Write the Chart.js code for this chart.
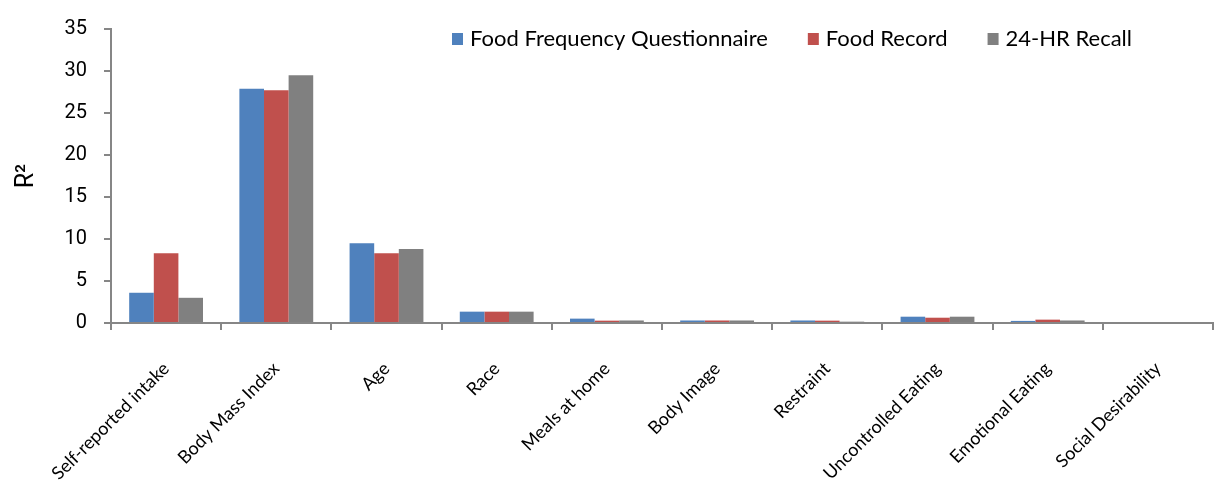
<!DOCTYPE html>
<html lang="en">
<head>
  <meta charset="UTF-8" />
  <title>R2 by predictor</title>
  <script src="https://cdn.jsdelivr.net/npm/chart.js"></script>
  <style>
    html, body { margin: 0; padding: 0; background: #fff; }
    #wrap { width: 1215px; height: 480px; position: relative; }
  </style>
</head>
<body>
  <div id="wrap"><canvas id="r2Chart"></canvas></div>

  <script>
    // categories and series
    const categories = ['Self-reported intake', 'Body Mass Index', 'Age', 'Race', 'Meals at home',
      'Body Image', 'Restraint', 'Uncontrolled Eating', 'Emotional Eating', 'Social Desirability'];
    const seriesNames = ['Food Frequency Questionnaire', 'Food Record', '24-HR Recall'];
    const ffqValues = [3.6, 27.9, 9.5, 1.35, 0.52, 0.3, 0.3, 0.75, 0.25, 0];
    const recordValues = [8.3, 27.7, 8.3, 1.35, 0.28, 0.3, 0.28, 0.63, 0.4, 0];
    const recallValues = [3.0, 29.5, 8.8, 1.35, 0.3, 0.3, 0.16, 0.75, 0.3, 0];
    const yTicks = [0, 5, 10, 15, 20, 25, 30, 35];

    const colors = ['#4F81BD', '#C0504D', '#808080'];
    const axisColor = '#868686';

    // legend drawn inside the plot, top right
    const insideLegend = {
      id: 'insideLegend',
      afterDraw(chart) {
        const ctx = chart.ctx;
        ctx.save();
        ctx.font = '22px Lato';
        ctx.textBaseline = 'middle';
        let x = 452;
        const y = 39;
        chart.data.datasets.forEach((ds, i) => {
          ctx.fillStyle = ds.backgroundColor;
          ctx.fillRect(x, y - 6, 11, 12);
          ctx.fillStyle = '#000';
          ctx.fillText(ds.label, x + 18, y);
          x += 18 + ctx.measureText(ds.label).width + 40;
        });
        ctx.restore();
      }
    };

    new Chart(document.getElementById('r2Chart'), {
      type: 'bar',
      data: {
        labels: categories,
        datasets: [ffqValues, recordValues, recallValues].map((vals, i) => ({
          label: seriesNames[i],
          data: vals,
          backgroundColor: colors[i],
          borderWidth: 0,
          categoryPercentage: 0.67,
          barPercentage: 1.0
        }))
      },
      options: {
        responsive: true,
        maintainAspectRatio: false,
        animation: false,
        layout: { padding: { top: 19, right: 2, left: 0, bottom: 0 } },
        plugins: {
          legend: { display: false },
          tooltip: { enabled: false }
        },
        scales: {
          x: {
            grid: {
              display: true,
              offset: true,
              drawOnChartArea: false,
              color: axisColor,
              tickLength: 7,
              lineWidth: 2
            },
            border: { color: axisColor, width: 2 },
            ticks: {
              color: '#000',
              font: { family: 'Lato', size: 18 },
              minRotation: 45,
              maxRotation: 45,
              autoSkip: false,
              padding: 28
            },
            afterFit(scale) { scale.height = 157; }
          },
          y: {
            min: 0,
            max: 35,
            afterBuildTicks(scale) { scale.ticks = yTicks.map(v => ({ value: v })); },
            grid: {
              display: true,
              drawOnChartArea: false,
              color: axisColor,
              tickLength: 7,
              lineWidth: 2
            },
            border: { color: axisColor, width: 2 },
            ticks: {
              color: '#000',
              font: { family: 'Roboto', size: 20 },
              padding: 17
            },
            title: {
              display: true,
              text: 'R²',
              color: '#000',
              font: { family: 'Roboto', size: 25 },
              padding: { top: 12, bottom: 0 }
            },
            afterFit(scale) { scale.width = 111; }
          }
        }
      },
      plugins: [insideLegend]
    });
  </script>
</body>
</html>
